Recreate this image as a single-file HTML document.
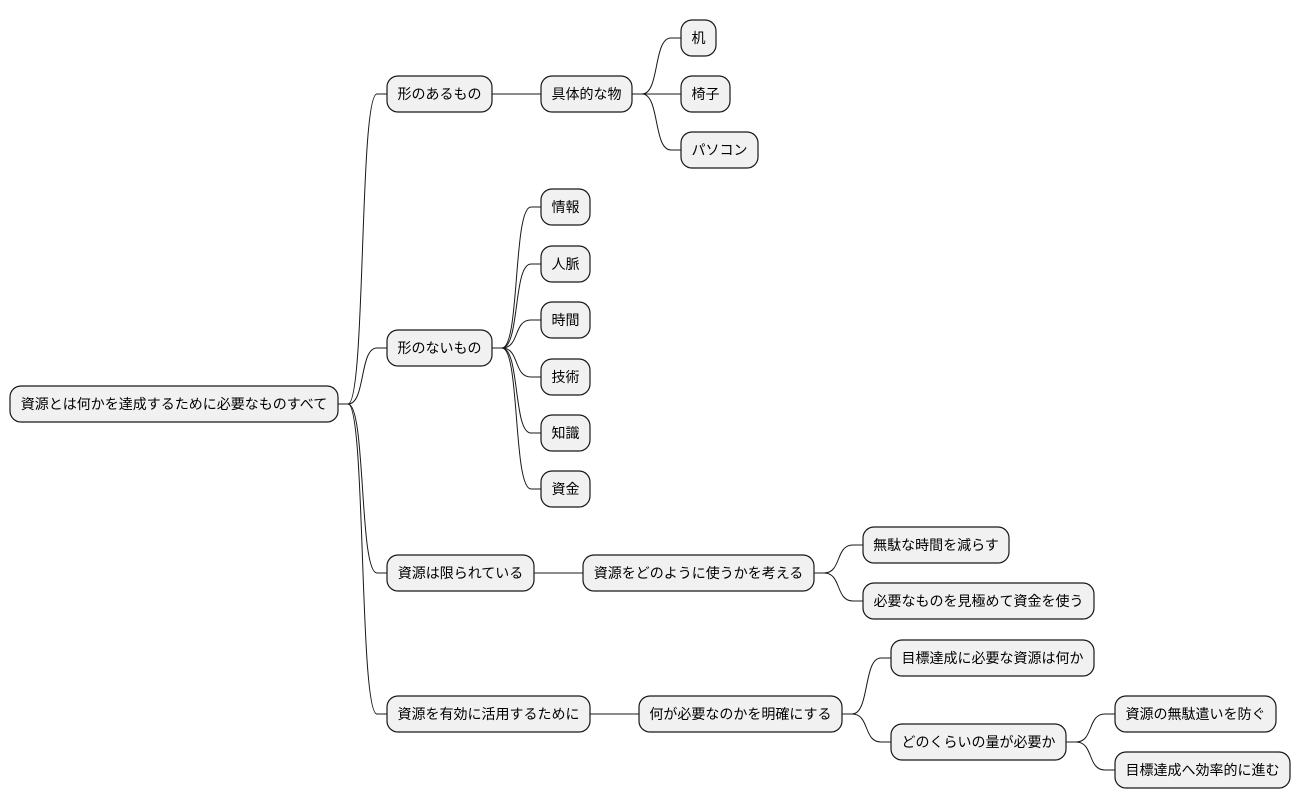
<!DOCTYPE html>
<html><head><meta charset="utf-8"><style>
html,body{margin:0;padding:0;background:#fff;}
svg{display:block}
text{font-family:"Liberation Sans","Noto Sans CJK JP",sans-serif;font-size:14px;fill:#000;text-anchor:middle}
rect{fill:#f1f1f1;stroke:#181818;stroke-width:1.2}
path{fill:none;stroke:#181818;stroke-width:1}
</style></head><body>
<svg width="1300" height="809" viewBox="0 0 1300 809">
<!-- connectors -->
<path d="M338 404 L348 404 C366 404,359 94,377 94 L387 94"/>
<path d="M338 404 L348 404 C366 404,359 348,377 348 L387 348"/>
<path d="M338 404 L348 404 C366 404,359 573,377 573 L387 573"/>
<path d="M338 404 L348 404 C366 404,359 714,377 714 L387 714"/>
<path d="M492 94 L541 94"/>
<path d="M632 94 L642 94 C660 94,653 38,671 38 L681 38"/>
<path d="M632 94 L681 94"/>
<path d="M632 94 L642 94 C660 94,653 150,671 150 L681 150"/>
<path d="M492 348 L502 348 C520 348,513 207,531 207 L541 207"/>
<path d="M492 348 L502 348 C520 348,513 264,531 264 L541 264"/>
<path d="M492 348 L502 348 C520 348,513 320,531 320 L541 320"/>
<path d="M492 348 L502 348 C520 348,513 377,531 377 L541 377"/>
<path d="M492 348 L502 348 C520 348,513 433,531 433 L541 433"/>
<path d="M492 348 L502 348 C520 348,513 489,531 489 L541 489"/>
<path d="M534 573 L583 573"/>
<path d="M814 573 L824 573 C842 573,835 545,853 545 L863 545"/>
<path d="M814 573 L824 573 C842 573,835 601,853 601 L863 601"/>
<path d="M590 714 L639 714"/>
<path d="M842 714 L852 714 C870 714,863 658,881 658 L891 658"/>
<path d="M842 714 L852 714 C870 714,863 742,881 742 L891 742"/>
<path d="M1066 742 L1076 742 C1094 742,1087 714,1105 714 L1115 714"/>
<path d="M1066 742 L1076 742 C1094 742,1087 770,1105 770 L1115 770"/>
<!-- nodes -->
<rect x="10" y="386" width="328" height="36" rx="11"/><text x="174" y="409">資源とは何かを達成するために必要なものすべて</text>
<rect x="387" y="76" width="105" height="36" rx="11"/><text x="439.5" y="99">形のあるもの</text>
<rect x="541" y="76" width="91" height="36" rx="11"/><text x="586.5" y="99">具体的な物</text>
<rect x="681" y="20" width="35" height="36" rx="11"/><text x="698.5" y="43">机</text>
<rect x="681" y="76" width="49" height="36" rx="11"/><text x="705.5" y="99">椅子</text>
<rect x="681" y="132" width="77" height="36" rx="11"/><text x="719.5" y="155">パソコン</text>
<rect x="387" y="330" width="105" height="36" rx="11"/><text x="439.5" y="353">形のないもの</text>
<rect x="541" y="189" width="49" height="36" rx="11"/><text x="565.5" y="212">情報</text>
<rect x="541" y="246" width="49" height="36" rx="11"/><text x="565.5" y="269">人脈</text>
<rect x="541" y="302" width="49" height="36" rx="11"/><text x="565.5" y="325">時間</text>
<rect x="541" y="359" width="49" height="36" rx="11"/><text x="565.5" y="382">技術</text>
<rect x="541" y="415" width="49" height="36" rx="11"/><text x="565.5" y="438">知識</text>
<rect x="541" y="471" width="49" height="36" rx="11"/><text x="565.5" y="494">資金</text>
<rect x="387" y="555" width="147" height="36" rx="11"/><text x="460.5" y="578">資源は限られている</text>
<rect x="583" y="555" width="231" height="36" rx="11"/><text x="698.5" y="578">資源をどのように使うかを考える</text>
<rect x="863" y="527" width="146" height="36" rx="11"/><text x="936" y="550">無駄な時間を減らす</text>
<rect x="863" y="583" width="231" height="36" rx="11"/><text x="978.5" y="606">必要なものを見極めて資金を使う</text>
<rect x="387" y="696" width="203" height="36" rx="11"/><text x="488.5" y="719">資源を有効に活用するために</text>
<rect x="639" y="696" width="203" height="36" rx="11"/><text x="740.5" y="719">何が必要なのかを明確にする</text>
<rect x="891" y="640" width="203" height="36" rx="11"/><text x="992.5" y="663">目標達成に必要な資源は何か</text>
<rect x="891" y="724" width="175" height="36" rx="11"/><text x="978.5" y="747">どのくらいの量が必要か</text>
<rect x="1115" y="696" width="161" height="36" rx="11"/><text x="1195.5" y="719">資源の無駄遣いを防ぐ</text>
<rect x="1115" y="752" width="175" height="36" rx="11"/><text x="1202.5" y="775">目標達成へ効率的に進む</text>
</svg>
</body></html>
